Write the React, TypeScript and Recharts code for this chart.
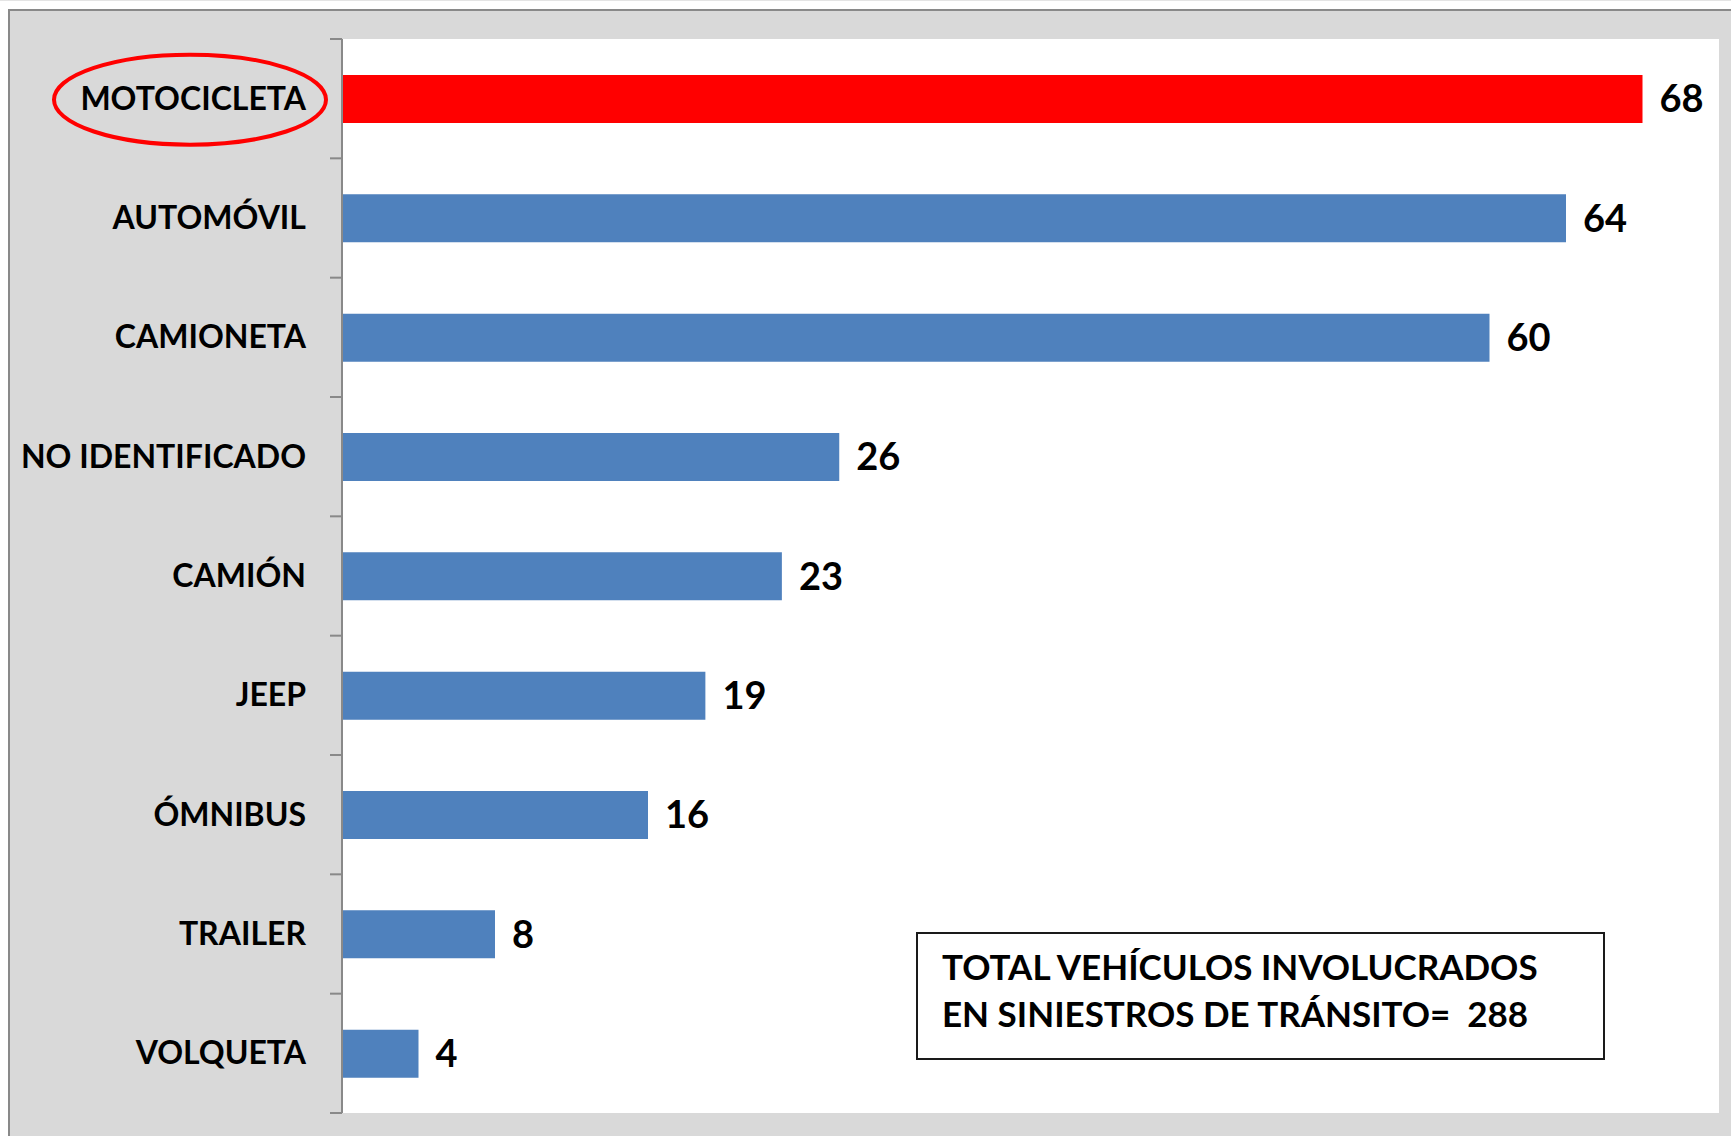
import { BarChart, Bar, XAxis, YAxis, CartesianGrid, Cell, LabelList } from 'recharts';

const categories = ['MOTOCICLETA', 'AUTOMÓVIL', 'CAMIONETA', 'NO IDENTIFICADO', 'CAMIÓN', 'JEEP', 'ÓMNIBUS', 'TRAILER', 'VOLQUETA'];
const vehicles = [68, 64, 60, 26, 23, 19, 16, 8, 4];
const highlighted = 'MOTOCICLETA';
const totalLines = ['TOTAL VEHÍCULOS INVOLUCRADOS', 'EN SINIESTROS DE TRÁNSITO=  288'];

const FONT = 'Lato, "Open Sans", sans-serif';
const BLUE = '#4f81bd';
const RED = '#ff0000';
const AXIS_GREY = '#898989';
const LABEL_GAP = 36;

const chartData = categories.map((name, i) => ({ name, value: vehicles[i] }));

// label + the small tick marks that sit on the band edges (Excel style)
function CategoryTick({ x, y, payload, index, visibleTicksCount }: any) {
  const isHighlighted = payload.value === highlighted;
  const half = payload.offset || 0;
  const axisX = x + LABEL_GAP;
  const isLast = index === visibleTicksCount - 1;
  return (
    <g>
      {half > 0 && <line x1={axisX - 12} x2={axisX} y1={y - half} y2={y - half} stroke={AXIS_GREY} strokeWidth={2} />}
      {half > 0 && isLast && <line x1={axisX - 12} x2={axisX} y1={y + half} y2={y + half} stroke={AXIS_GREY} strokeWidth={2} />}
      {isHighlighted && (
        <ellipse cx={x - 116} cy={y + 1} rx={136} ry={45} fill="none" stroke={RED} strokeWidth={4} />
      )}
      <text x={x} y={y + 11} textAnchor="end" fill="#000" fontFamily={FONT} fontWeight={700} fontSize={32}>
        {payload.value}
      </text>
    </g>
  );
}

export default function App() {
  return (
    <div style={{ position: 'absolute', left: 0, top: 0, width: 1731, height: 1136, overflow: 'hidden', background: '#fff', fontFamily: FONT }}>
      <div style={{ position: 'absolute', left: 0, top: 0, width: 1731, height: 1, background: '#e4e4e4' }} />
      <div
        style={{
          position: 'absolute',
          left: 8,
          top: 9,
          width: 1731,
          height: 1136,
          background: '#d9d9d9',
          borderTop: `2px solid ${AXIS_GREY}`,
          borderLeft: `2px solid ${AXIS_GREY}`,
        }}
      />
      <div style={{ position: 'absolute', left: 0, top: 0 }}>
        <BarChart
          width={1731}
          height={1136}
          data={chartData}
          layout="vertical"
          margin={{ top: 39, right: 12, bottom: 23, left: 0 }}
        >
          <CartesianGrid horizontal={false} vertical={false} fill="#ffffff" yAxisId="cats" />
          <XAxis type="number" domain={[0, 72]} hide />
          <YAxis
            yAxisId="cats"
            type="category"
            dataKey="name"
            width={342}
            interval={0}
            tickLine={false}
            tickSize={0}
            tickMargin={LABEL_GAP}
            axisLine={{ stroke: AXIS_GREY, strokeWidth: 2 }}
            tick={<CategoryTick />}
          />
          <Bar dataKey="value" yAxisId="cats" barSize={48} isAnimationActive={false}>
            {chartData.map((d) => (
              <Cell key={d.name} fill={d.name === highlighted ? RED : BLUE} />
            ))}
            <LabelList
              dataKey="value"
              position="right"
              offset={17}
              fill="#000"
              fontFamily={FONT}
              fontWeight={700}
              fontSize={38}
            />
          </Bar>
        </BarChart>
      </div>
      <div
        style={{
          position: 'absolute',
          left: 916,
          top: 932,
          width: 685,
          height: 124,
          border: '2px solid #1a1a1a',
          background: '#fff',
        }}
      >
        <div style={{ position: 'absolute', left: 24, top: 9, fontSize: 35, fontWeight: 700, lineHeight: '47px', color: '#000', whiteSpace: 'pre' }}>
          {totalLines.map((line) => (
            <div key={line}>{line}</div>
          ))}
        </div>
      </div>
    </div>
  );
}
